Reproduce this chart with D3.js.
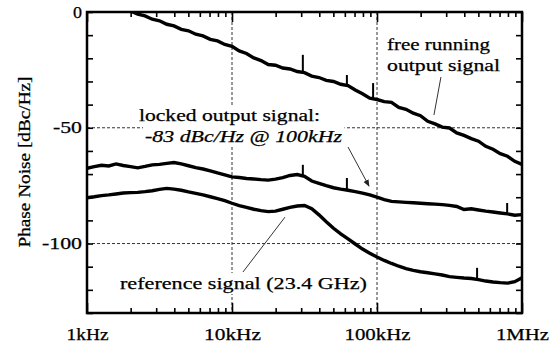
<!DOCTYPE html>
<html><head><meta charset="utf-8">
<script src="https://cdn.jsdelivr.net/npm/d3@7"></script>
<style>
body{margin:0;background:#fff}
svg{display:block}
text{font-family:"Liberation Serif","Times New Roman",serif;fill:#000;stroke:#000;stroke-width:0.25}
</style>
</head><body>
<svg id="c" width="559" height="342"></svg>
<script>
// ---------------- data ----------------
const freqs = [1000,1122,1259,1413,1585,1778,1995,2239,2512,2818,
  3162,3548,3981,4467,5012,5623,6310,7079,7943,8913,
  10000,11220,12590,14130,15850,17780,19950,22390,25120,28180,
  31620,35480,39810,44670,50120,56230,63100,70790,79430,89130,
  100000,112200,125900,141300,158500,177800,199500,223900,251200,281800,
  316200,354800,398100,446700,501200,562300,631000,707900,794300,891300,1000000];

const freeVals = [6.6,5.4,4.5,3.2,2.4,1.2,0.5,-0.9,-1.7,-3.1,
  -3.8,-5.3,-6.0,-7.5,-8.1,-9.6,-10.3,-11.8,-12.5,-14.0,
  -14.8,-16.8,-17.9,-19.8,-21.0,-22.7,-23.0,-24.2,-24.6,-25.7,
  -26.2,-27.7,-28.3,-29.5,-30.0,-31.2,-31.8,-33.7,-35.3,-37.2,
  -37.8,-38.7,-39.0,-41.2,-42.0,-43.7,-44.8,-47.2,-48.3,-49.7,
  -50.1,-52.2,-53.3,-54.7,-55.8,-58.0,-59.3,-61.2,-62.3,-64.5,-65.8];

const lockedVals = [-67.5,-66.8,-66.2,-66.5,-65.6,-66.3,-66.8,-67.3,-66.7,-66.0,
  -65.8,-65.4,-65.0,-65.6,-66.4,-67.2,-67.8,-68.6,-69.5,-70.3,
  -71.2,-71.5,-71.9,-72.1,-72.4,-72.6,-72.2,-71.5,-70.6,-70.2,
  -71.0,-73.0,-74.0,-75.0,-75.9,-76.5,-77.0,-77.6,-78.2,-79.0,
  -80.0,-81.0,-81.8,-82.0,-82.2,-82.4,-82.6,-82.8,-83.0,-83.2,
  -83.5,-84.0,-85.3,-85.0,-85.5,-86.0,-86.4,-86.8,-87.2,-87.8,-87.5];

const refVals = [-80.2,-79.8,-79.3,-79.0,-78.6,-78.2,-78.0,-77.9,-77.6,-77.2,
  -76.6,-76.2,-76.5,-77.0,-77.7,-78.3,-79.0,-79.8,-80.6,-81.5,
  -82.6,-83.6,-84.4,-85.2,-85.8,-86.2,-86.0,-85.2,-84.4,-83.8,
  -83.6,-85.0,-87.6,-90.6,-93.4,-95.8,-98.0,-100.2,-102.4,-104.2,
  -105.8,-107.3,-108.6,-109.8,-110.8,-111.6,-112.2,-112.6,-113.1,-113.6,
  -114.3,-114.6,-114.9,-115.1,-115.6,-116.2,-116.6,-116.9,-117.1,-116.5,-114.8];

// spurs: frequency, base level, top level
const freeSpurF = [30800, 62000, 94000];
const freeSpurBase = [-26.2, -31.8, -37.5];
const freeSpurTop = [-18.5, -27.2, -30.7];
const lockedSpurF = [30800, 62000, 790000];
const lockedSpurBase = [-71.0, -77.0, -87.2];
const lockedSpurTop = [-66.0, -71.7, -82.5];
const refSpurF = [490000];
const refSpurBase = [-115.8];
const refSpurTop = [-110.5];

const xTickVals = [1e3, 1e4, 1e5, 1e6];
const xTickLabels = ["1kHz", "10kHz", "100kHz", "1MHz"];
const yTickVals = [0, -50, -100];
const yTickLabels = ["0", "-50", "-100"];
const yTitle = "Phase Noise [dBc/Hz]";

// ---------------- layout ----------------
const L = 87, R = 522, T = 12, B = 313;
const svg = d3.select("#c");
const x = d3.scaleLog().domain([1e3, 1e6]).range([L, R]);
const y = d3.scaleLinear().domain([-130, 0]).range([B, T]);

function stretch(sel, w) { sel.attr("textLength", w).attr("lengthAdjust", "spacingAndGlyphs"); }

// grid
const grid = svg.append("g").attr("stroke", "#333").attr("stroke-width", 1).attr("stroke-dasharray", "3,2");
[1e4, 1e5].forEach(v => grid.append("line").attr("x1", x(v)).attr("x2", x(v)).attr("y1", T).attr("y2", B));
[-50, -100].forEach(v => grid.append("line").attr("x1", L).attr("x2", R).attr("y1", y(v)).attr("y2", y(v)));

// annotation texts with white backgrounds
const notes = [
  {t: "free running", x: 387, y: 50, w: 103},
  {t: "output signal", x: 387, y: 71, w: 113},
  {t: "locked output signal:", x: 139, y: 121, w: 181},
  {t: "-83 dBc/Hz @ 100kHz", x: 145, y: 142, w: 197, it: true},
  {t: "reference signal (23.4 GHz)", x: 120, y: 289, w: 247}
];
const ng = svg.append("g");
notes.forEach(n => {
  const g = ng.append("g");
  const bg = g.append("rect").attr("fill", "#fff");
  const t = g.append("text").attr("x", n.x).attr("y", n.y).attr("font-size", 17)
    .attr("font-style", n.it ? "italic" : "normal").text(n.t);
  stretch(t, n.w);
  const b = t.node().getBBox();
  bg.attr("x", b.x - 2).attr("y", b.y - 1).attr("width", b.width + 4).attr("height", b.height + 2);
});

// annotation leader lines (data coordinates)
const leaders = [
  {f1: 276000, v1: -28.1, f2: 247000, v2: -44.5, arrow: false},
  {f1: 63100, v1: -58.3, f2: 88100, v2: -75.2, arrow: true},
  {f1: 11900, v1: -112.3, f2: 23200, v2: -88.6, arrow: false}
];
svg.append("defs").append("marker").attr("id", "ah").attr("viewBox", "0 0 10 10")
  .attr("refX", 9).attr("refY", 5).attr("markerWidth", 7).attr("markerHeight", 7).attr("orient", "auto")
  .append("path").attr("d", "M0,1L10,5L0,9Z").attr("fill", "#222");
leaders.forEach(l => {
  svg.append("line").attr("x1", x(l.f1)).attr("y1", y(l.v1)).attr("x2", x(l.f2)).attr("y2", y(l.v2))
    .attr("stroke", "#333").attr("stroke-width", 1)
    .attr("marker-end", l.arrow ? "url(#ah)" : null);
});

// curves
svg.append("clipPath").attr("id", "pc").append("rect")
  .attr("x", L).attr("y", T).attr("width", R - L).attr("height", B - T);
const cg = svg.append("g").attr("clip-path", "url(#pc)");
const line = d3.line().x((d, i) => x(freqs[i])).y(d => y(d));
[freeVals, lockedVals, refVals].forEach(vals => {
  cg.append("path").attr("d", line(vals)).attr("fill", "none").attr("stroke", "#000")
    .attr("stroke-width", 3.4).attr("stroke-linejoin", "miter");
});
[[freeSpurF, freeSpurBase, freeSpurTop], [lockedSpurF, lockedSpurBase, lockedSpurTop], [refSpurF, refSpurBase, refSpurTop]]
  .forEach(([F, b, t]) => F.forEach((f, i) => {
    cg.append("line").attr("x1", x(f)).attr("x2", x(f)).attr("y1", y(b[i])).attr("y2", y(t[i]))
      .attr("stroke", "#000").attr("stroke-width", 2);
  }));

// axes
const minor = x.ticks().filter(v => Math.abs(Math.log10(v) - Math.round(Math.log10(v))) > 1e-6);
const yTicks = d3.range(-130, 1, 10);
function clean(g) { g.select(".domain").remove(); g.selectAll("line").attr("stroke", "#000").attr("stroke-width", 1.6); }

svg.append("g").attr("transform", `translate(0,${B})`)
  .call(d3.axisBottom(x).tickValues(minor).tickSize(-5).tickFormat("")).call(clean);
const xb = svg.append("g").attr("transform", `translate(0,${B})`)
  .call(d3.axisBottom(x).tickValues(xTickVals).tickSize(-10).tickPadding(16)
    .tickFormat((d, i) => xTickLabels[i])).call(clean);
const xw = [42, 57, 66, 53];
xb.selectAll("text").attr("font-size", 16).each(function(d, i) { stretch(d3.select(this), xw[i]); });

svg.append("g").attr("transform", `translate(0,${T})`)
  .call(d3.axisTop(x).tickValues(minor).tickSize(-5).tickFormat("")).call(clean);
svg.append("g").attr("transform", `translate(0,${T})`)
  .call(d3.axisTop(x).tickValues(xTickVals).tickSize(-10).tickFormat("")).call(clean);

const yl = svg.append("g").attr("transform", `translate(${L},0)`)
  .call(d3.axisLeft(y).tickValues(yTicks).tickSize(-6).tickPadding(5)
    .tickFormat(d => { const k = yTickVals.indexOf(d); return k >= 0 ? yTickLabels[k] : ""; })).call(clean);
const yw = {"0": 9, "-50": 29, "-100": 40};
yl.selectAll("text").attr("font-size", 16).each(function() {
  const s = d3.select(this); const tx = s.text(); if (tx && yw[tx]) stretch(s, yw[tx]);
});
svg.append("g").attr("transform", `translate(${R},0)`)
  .call(d3.axisRight(y).tickValues(yTicks).tickSize(-6).tickFormat("")).call(clean);

// frame
svg.append("rect").attr("x", L).attr("y", T).attr("width", R - L).attr("height", B - T)
  .attr("fill", "none").attr("stroke", "#000").attr("stroke-width", 2.5);

// y title
const yt = svg.append("text").attr("transform", "translate(30,162) rotate(-90)")
  .attr("text-anchor", "middle").attr("font-size", 16).text(yTitle);
stretch(yt, 171);
</script>
</body></html>
